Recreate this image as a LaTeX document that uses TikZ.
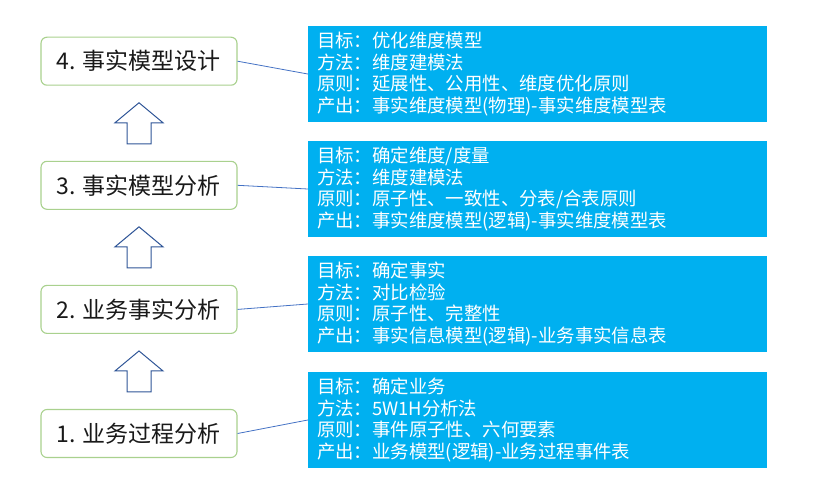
\documentclass[tikz,border=0pt]{standalone}
\usepackage{fontspec}
\setmainfont{Noto Sans CJK SC}
\usetikzlibrary{shapes,arrows,positioning}

\definecolor{stepgreen}{HTML}{A9D18E}
\definecolor{infoblue}{HTML}{00B0F0}
\definecolor{linkblue}{HTML}{4472C4}
\definecolor{arrowblue}{HTML}{2F5597}

\tikzset{
  stepbox/.style={rounded corners=6pt, draw=stepgreen, line width=1.1pt, fill=white,
    minimum width=196pt, minimum height=48pt, inner sep=0pt,
    font=\fontsize{23}{26}\selectfont, text=black!90},
  infobox/.style={fill=infoblue, text=white, inner xsep=9pt, inner ysep=0pt,
    text width=441pt, minimum height=96pt, align=left,
    font=\fontsize{18.4}{21.6}\selectfont},
  arrowslot/.style={minimum width=48pt, minimum height=41pt, inner sep=0pt, outer sep=0pt},
  arrowline/.style={draw=arrowblue, line width=1pt, fill=white, line join=miter},
  link/.style={draw=linkblue, line width=0.8pt}
}

\begin{document}
\begin{tikzpicture}[x=1pt, y=-1pt, node distance=17pt]
  \useasboundingbox (0,0) rectangle (814,495);

  \node (step1) [stepbox] at (139,433.5) {1. 业务过程分析};
  \node (up1) [arrowslot, above=of step1] {};
  \node (step2) [stepbox, above=of up1] {2. 业务事实分析};
  \node (up2) [arrowslot, above=of step2] {};
  \node (step3) [stepbox, above=of up2] {3. 事实模型分析};
  \node (up3) [arrowslot, above=of step3] {};
  \node (step4) [stepbox, above=of up3] {4. 事实模型设计};

  % hollow block arrows
  \foreach \a in {up1,up2,up3}
    \draw [arrowline] (\a.south) ++(-12,0) -- ++(0,-21) -- ++(-12,0) -- (\a.north)
      -- ++(24,20) -- ++(-12,0) -- ++(0,21) -- cycle;

  \node (info4) [infobox] at (537.5,74) {目标：优化维度模型\\方法：维度建模法\\原则：延展性、公用性、维度优化原则\\产出：事实维度模型(物理)-事实维度模型表};
  \node (info3) [infobox] at (537.5,189) {目标：确定维度/度量\\方法：维度建模法\\原则：原子性、一致性、分表/合表原则\\产出：事实维度模型(逻辑)-事实维度模型表};
  \node (info2) [infobox] at (537.5,304) {目标：确定事实\\方法：对比检验\\原则：原子性、完整性\\产出：事实信息模型(逻辑)-业务事实信息表};
  \node (info1) [infobox] at (537.5,420) {目标：确定业务\\方法：5W1H分析法\\原则：事件原子性、六何要素\\产出：业务模型(逻辑)-业务过程事件表};

  \draw [link] (step4.east) -- (info4.west);
  \draw [link] (step3.east) -- (info3.west);
  \draw [link] (step2.east) -- (info2.west);
  \draw [link] (step1.east) -- (info1.west);
\end{tikzpicture}
\end{document}
